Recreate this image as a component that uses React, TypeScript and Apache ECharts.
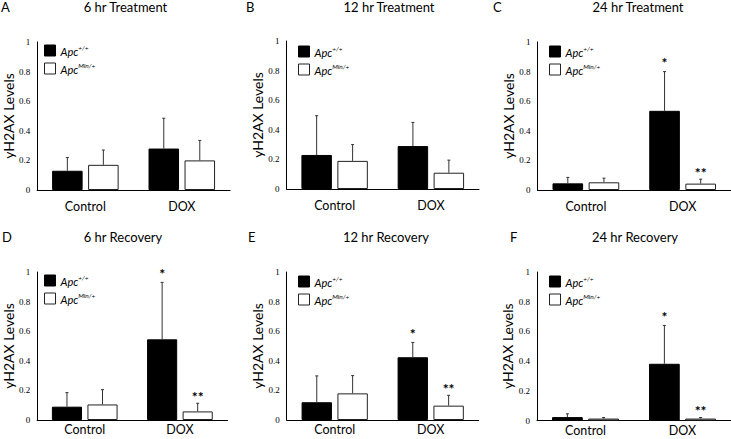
import React, { useEffect, useRef } from "react";
import * as echarts from "echarts";

const categories = ["Control", "DOX"];
const panelLetters = ["A", "B", "C", "D", "E", "F"];
const panelTitles = [
  "6 hr Treatment",
  "12 hr Treatment",
  "24 hr Treatment",
  "6 hr Recovery",
  "12 hr Recovery",
  "24 hr Recovery",
];
const seriesNames = ["Apc+/+", "ApcMin/+"];

// means and upward error (SD) per panel, [Control, DOX]
const wtMean = [
  [0.13, 0.28],
  [0.23, 0.29],
  [0.045, 0.535],
  [0.09, 0.545],
  [0.12, 0.424],
  [0.023, 0.382],
];
const wtErr = [
  [0.09, 0.205],
  [0.265, 0.16],
  [0.04, 0.265],
  [0.095, 0.385],
  [0.178, 0.1],
  [0.022, 0.258],
];
const minMean = [
  [0.17, 0.2],
  [0.19, 0.11],
  [0.052, 0.043],
  [0.105, 0.058],
  [0.18, 0.097],
  [0.013, 0.013],
];
const minErr = [
  [0.1, 0.135],
  [0.11, 0.085],
  [0.028, 0.03],
  [0.1, 0.055],
  [0.12, 0.07],
  [0.007, 0.007],
];
const wtSig = [
  ["", ""],
  ["", ""],
  ["", "*"],
  ["", "*"],
  ["", "*"],
  ["", "*"],
];
const minSig = [
  ["", ""],
  ["", ""],
  ["", "**"],
  ["", "**"],
  ["", "**"],
  ["", "**"],
];
const yMin = 0;
const yMax = 1;
const yInterval = 0.2;

// layout (positions only)
const grids = [
  { left: 36, top: 42, width: 194, height: 148 },
  { left: 286.5, top: 41, width: 192.5, height: 148 },
  { left: 537.5, top: 42, width: 193.5, height: 148 },
  { left: 33.5, top: 272, width: 194, height: 148 },
  { left: 286.7, top: 272, width: 192, height: 148 },
  { left: 537, top: 272, width: 194, height: 148.5 },
];
const legendPos = [
  [44, 44],
  [298, 45],
  [549, 45],
  [44, 274],
  [298, 275],
  [549, 275],
];
const titlePos = [
  [125.5, 7],
  [389, 7],
  [638, 7],
  [123, 237],
  [386, 237],
  [635, 237],
];
const letterPos = [
  [1, 7],
  [246, 7],
  [493, 7],
  [2, 237],
  [248, 237],
  [510, 237],
];
const nameGaps = [15, 19, 18, 16, 19, 18];
const xLabelMargin = [10, 10, 10, 3, 3, 3];

const SANS = "Lato, 'Noto Sans', sans-serif";
const SERIF = "'Liberation Serif', 'DejaVu Serif', serif";
const CAT_GAP = 0.31;
const BAR_GAP = 0.18;

export default function App() {
  const ref = useRef<HTMLDivElement>(null);
  useEffect(() => {
    document.body.style.margin = "0";
    if (!ref.current) return;
    const chart = echarts.init(ref.current, null, { renderer: "svg" });

    const makeErr = (p: number, k: number) => {
      const means = k === 0 ? wtMean[p] : minMean[p];
      const errs = k === 0 ? wtErr[p] : minErr[p];
      const sigs = k === 0 ? wtSig[p] : minSig[p];
      return {
        type: "custom",
        xAxisIndex: p,
        yAxisIndex: p,
        z: 5,
        silent: true,
        data: categories.map((_, i) => [i, means[i], errs[i]]),
        encode: { x: 0, y: 1 },
        renderItem: (params: any, api: any) => {
          const xi = api.value(0);
          const v = api.value(1);
          const e = api.value(2);
          const base = api.coord([xi, v]);
          const top = api.coord([xi, v + e]);
          const band = api.size([1, 0])[0];
          const bw = (band * (1 - CAT_GAP)) / (2 + BAR_GAP);
          const off = ((bw * (1 + BAR_GAP)) / 2) * (k === 0 ? -1 : 1);
          const cx = base[0] + off;
          const col = "#333";
          const children: any[] = [
            {
              type: "line",
              shape: { x1: cx, y1: base[1], x2: cx, y2: top[1] },
              style: { stroke: col, lineWidth: 1 },
            },
            {
              type: "line",
              shape: { x1: cx - 1.5, y1: top[1], x2: cx + 1.5, y2: top[1] },
              style: { stroke: col, lineWidth: 1 },
            },
          ];
          const s = sigs[params.dataIndex];
          if (s) {
            children.push({
              type: "text",
              x: cx,
              y: top[1] - (k === 0 ? 2 : 0),
              style: {
                text: s,
                textAlign: "center",
                textVerticalAlign: "bottom",
                fontFamily: SANS,
                fontWeight: "bold",
                fontSize: 14,
                fill: "#000",
              },
            });
          }
          return { type: "group", children };
        },
      };
    };

    const series: any[] = [];
    for (let p = 0; p < 6; p++) {
      series.push({
        type: "bar",
        name: seriesNames[0],
        xAxisIndex: p,
        yAxisIndex: p,
        data: wtMean[p],
        barCategoryGap: `${CAT_GAP * 100}%`,
        barGap: `${BAR_GAP * 100}%`,
        itemStyle: { color: "#000", borderColor: "#000", borderWidth: 1 },
        silent: true,
      });
      series.push({
        type: "bar",
        name: seriesNames[1],
        xAxisIndex: p,
        yAxisIndex: p,
        data: minMean[p],
        barCategoryGap: `${CAT_GAP * 100}%`,
        barGap: `${BAR_GAP * 100}%`,
        itemStyle: { color: "#fff", borderColor: "#222", borderWidth: 1 },
        silent: true,
      });
      series.push(makeErr(p, 0));
      series.push(makeErr(p, 1));
    }

    const rich = {
      i: {
        fontFamily: SANS,
        fontStyle: "italic",
        fontSize: 11,
        color: "#000",
        lineHeight: 13,
        verticalAlign: "bottom",
      },
      s: {
        fontFamily: SANS,
        fontStyle: "italic",
        fontSize: 6.5,
        color: "#000",
        verticalAlign: "top",
      },
    };

    const graphics: any[] = [];
    for (let p = 0; p < 6; p++) {
      graphics.push({
        type: "text",
        x: titlePos[p][0],
        y: titlePos[p][1],
        style: {
          text: panelTitles[p],
          textAlign: "center",
          textVerticalAlign: "middle",
          fontFamily: SANS,
          fontSize: 13,
          fill: "#000",
        },
      });
      graphics.push({
        type: "text",
        x: letterPos[p][0],
        y: letterPos[p][1],
        style: {
          text: panelLetters[p],
          textAlign: "left",
          textVerticalAlign: "middle",
          fontFamily: SANS,
          fontSize: 13,
          fill: "#000",
        },
      });
    }

    chart.setOption({
      animation: false,
      backgroundColor: "#fff",
      grid: grids.map((g) => ({ ...g, containLabel: false })),
      xAxis: grids.map((_, p) => ({
        type: "category",
        gridIndex: p,
        data: categories,
        axisLine: { show: true, lineStyle: { color: "#000", width: 1 } },
        axisTick: { show: false },
        splitLine: { show: false },
        axisLabel: {
          color: "#000",
          fontFamily: SANS,
          fontSize: 12.5,
          margin: xLabelMargin[p],
        },
      })),
      yAxis: grids.map((_, p) => ({
        type: "value",
        gridIndex: p,
        min: yMin,
        max: yMax,
        interval: yInterval,
        name: "yH2AX Levels",
        nameLocation: "middle",
        nameGap: nameGaps[p],
        nameTextStyle: { fontFamily: SANS, fontSize: 14, color: "#000" },
        axisLine: { show: true, lineStyle: { color: "#000", width: 1 } },
        axisTick: { show: false },
        splitLine: { show: false },
        axisLabel: {
          color: "#000",
          fontFamily: SERIF,
          fontSize: 9,
          margin: 7,
        },
      })),
      legend: legendPos.map((pos) => ({
        left: pos[0],
        top: pos[1],
        orient: "vertical",
        padding: 0,
        itemWidth: 11,
        itemHeight: 11,
        itemGap: 5,
        selectedMode: false,
        icon: "rect",
        data: [
          {
            name: seriesNames[0],
            itemStyle: { color: "#000", borderColor: "#000", borderWidth: 1 },
          },
          {
            name: seriesNames[1],
            itemStyle: { color: "#fff", borderColor: "#222", borderWidth: 1 },
          },
        ],
        formatter: (name: string) =>
          name === seriesNames[0] ? "{i|Apc}{s|+/+}" : "{i|Apc}{s|Min/+}",
        textStyle: { rich },
      })),
      graphic: graphics,
      series,
    });

    return () => {
      chart.dispose();
    };
  }, []);

  return <div ref={ref} style={{ width: 731, height: 439 }} />;
}
